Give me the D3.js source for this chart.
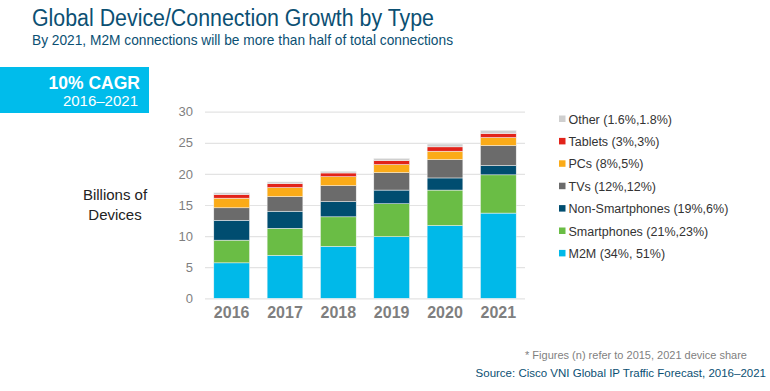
<!DOCTYPE html>
<html>
<head>
<meta charset="utf-8">
<script src="https://cdn.jsdelivr.net/npm/d3@7"></script>
<style>
    body { margin: 0; background: #fff; }
    text { font-family: "Liberation Sans", Arial, sans-serif; }
</style>
</head>
<body>
<div id="chart"></div>
<script>
// data
var years = ["2016", "2017", "2018", "2019", "2020", "2021"];
var m2m = [5.7, 6.9, 8.35, 9.9, 11.7, 13.7];
var smartphones = [3.65, 4.35, 4.75, 5.3, 5.7, 6.15];
var nonSmartphones = [3.2, 2.75, 2.45, 2.2, 1.95, 1.5];
var tvs = [2.0, 2.35, 2.55, 2.8, 2.95, 3.2];
var pcs = [1.55, 1.45, 1.45, 1.3, 1.35, 1.3];
var tablets = [0.6, 0.65, 0.6, 0.65, 0.7, 0.65];
var other = [0.27, 0.27, 0.27, 0.35, 0.45, 0.5];

var seriesKeys = ["M2M", "Smartphones", "Non-Smartphones", "TVs", "PCs", "Tablets", "Other"];
var seriesLabels = ["M2M (34%, 51%)", "Smartphones (21%,23%)", "Non-Smartphones (19%,6%)",
    "TVs (12%,12%)", "PCs (8%,5%)", "Tablets (3%,3%)", "Other (1.6%,1.8%)"];
var yTicks = [0, 5, 10, 15, 20, 25, 30];

var colors = ["#00b9e9", "#6abd45", "#004d70", "#6b6b6b", "#fbab18", "#e2231a", "#cfcfcf"];

// build rows for d3.stack
var table = years.map(function (y, i) {
    return {
        year: y, "M2M": m2m[i], "Smartphones": smartphones[i], "Non-Smartphones": nonSmartphones[i],
        "TVs": tvs[i], "PCs": pcs[i], "Tablets": tablets[i], "Other": other[i]
    };
});

var svg = d3.select("#chart")
    .append("svg")
    .attr("width", 770)
    .attr("height", 391);

// title and subtitle (condensed to the reference width)
svg.append("text")
    .attr("x", 32).attr("y", 26)
    .attr("textLength", 402).attr("lengthAdjust", "spacingAndGlyphs")
    .style("font-family", "'Liberation Sans Narrow', 'Liberation Sans', Arial, sans-serif")
    .style("font-size", "23px")
    .style("fill", "#0b5073")
    .text("Global Device/Connection Growth by Type");
svg.append("text")
    .attr("x", 32).attr("y", 44.5)
    .attr("textLength", 421).attr("lengthAdjust", "spacingAndGlyphs")
    .style("font-family", "'Liberation Sans Narrow', 'Liberation Sans', Arial, sans-serif")
    .style("font-size", "15px")
    .style("fill", "#0b5073")
    .text("By 2021, M2M connections will be more than half of total connections");

// CAGR box
svg.append("rect")
    .attr("x", 0).attr("y", 67).attr("width", 149).attr("height", 46)
    .style("fill", "#00bceb");
svg.append("text")
    .attr("x", 140).attr("y", 88.5)
    .attr("text-anchor", "end")
    .style("font-size", "17.5px").style("font-weight", "bold")
    .style("fill", "#fff")
    .text("10% CAGR");
svg.append("text")
    .attr("x", 138).attr("y", 106)
    .attr("text-anchor", "end")
    .style("font-size", "15px")
    .style("fill", "#fff")
    .text("2016\u20132021");

// axis title
svg.append("text")
    .attr("x", 115).attr("y", 200)
    .attr("text-anchor", "middle")
    .style("font-size", "15px").style("fill", "#222")
    .text("Billions of");
svg.append("text")
    .attr("x", 115).attr("y", 220)
    .attr("text-anchor", "middle")
    .style("font-size", "15px").style("fill", "#222")
    .text("Devices");

// scales
var x = d3.scaleBand()
    .domain(years)
    .range([205, 525])
    .paddingInner(0.33)
    .paddingOuter(0.165);

var y = d3.scaleLinear()
    .domain([0, 30])
    .range([298.3, 111.7]);

// gridlines + y labels
var yAxis = svg.append("g")
    .attr("transform", "translate(205,0)")
    .call(d3.axisLeft(y).tickValues(yTicks).tickSize(-320).tickPadding(12));
yAxis.select(".domain").remove();
yAxis.selectAll("line").attr("stroke", "#e3e3e3").attr("stroke-width", 1.2);
yAxis.selectAll("text")
    .style("font-size", "13px")
    .style("fill", "#7f7f7f")
    .style("font-family", "'Liberation Sans', Arial, sans-serif");

// stacked bars
var stacked = d3.stack().keys(seriesKeys)(table);

svg.append("g")
    .selectAll("g")
    .data(stacked)
    .enter()
    .append("g")
    .style("fill", function (d, i) { return colors[i]; })
    .selectAll("rect")
    .data(function (d) { return d; })
    .enter()
    .append("rect")
    .attr("x", function (d) { return x(d.data.year); })
    .attr("y", function (d) { return y(d[1]); })
    .attr("height", function (d) { return y(d[0]) - y(d[1]); })
    .attr("width", x.bandwidth())
    .attr("stroke", "#f4f4f4")
    .attr("stroke-width", 0.5);

// x labels
var xAxis = svg.append("g")
    .attr("transform", "translate(0,298.3)")
    .call(d3.axisBottom(x).tickSize(0).tickPadding(8));
xAxis.select(".domain").remove();
xAxis.selectAll("text")
    .style("font-size", "16px")
    .style("font-weight", "bold")
    .style("fill", "#7f7f7f")
    .style("font-family", "'Liberation Sans', Arial, sans-serif");

// legend (top entry is Other)
var legend = svg.append("g")
    .selectAll("g")
    .data(seriesKeys.slice().reverse())
    .enter()
    .append("g")
    .attr("transform", function (d, i) { return "translate(559," + (119 + i * 22.4) + ")"; });
legend.append("rect")
    .attr("x", 0).attr("y", -3.5)
    .attr("width", 6.5).attr("height", 6.5)
    .style("fill", function (d) { return colors[seriesKeys.indexOf(d)]; });
legend.append("text")
    .attr("x", 9.5).attr("y", 4.5)
    .style("font-size", "12.5px")
    .style("fill", "#333")
    .text(function (d) { return seriesLabels[seriesKeys.indexOf(d)]; });

// footnotes
svg.append("text")
    .attr("x", 747).attr("y", 358.5)
    .attr("text-anchor", "end")
    .style("font-size", "11px").style("fill", "#7f7f7f")
    .text("*  Figures (n) refer to 2015, 2021 device share");
svg.append("text")
    .attr("x", 766).attr("y", 377)
    .attr("text-anchor", "end")
    .style("font-size", "11.5px").style("fill", "#0b5073")
    .text("Source: Cisco VNI Global IP Traffic Forecast, 2016\u20132021");
</script>
</body>
</html>
